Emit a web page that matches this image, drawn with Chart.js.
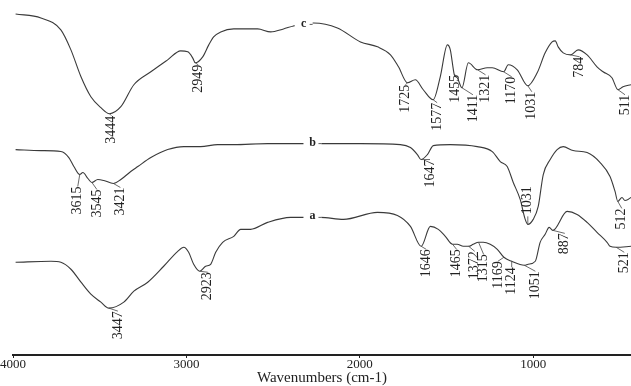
<!DOCTYPE html>
<html>
<head>
<meta charset="utf-8">
<script src="https://cdn.jsdelivr.net/npm/chart.js@4.4.0/dist/chart.umd.min.js"></script>
<style>
  html, body { margin: 0; padding: 0; background: #fff; }
  canvas { display: block; }
</style>
</head>
<body>
<canvas id="ftir" width="631" height="386"></canvas>
<script>
// FTIR spectra, three samples stacked (offset transmittance, arbitrary units)
const cWave = [3985,3839,3724,3666,3608,3551,3493,3444,3378,3303,3205,3108,3033,2992,2964,2949,2906,2871,2843,2802,2727,2589,2514,2440,2382,2267,2129,1996,1898,1823,1777,1725,1680,1634,1577,1536,1495,1478,1462,1455,1438,1411,1374,1321,1265,1236,1170,1144,1092,1031,977,931,891,873,856,827,784,741,689,632,597,546,511,482,436];
const cT    = [342,338,326,306,279,259,248,242,249,271,284,296,305,304,298,293,299,311,319,324,327,327,324,327,330,333,328,314,309,301,289,273,276,266,256,279,311,306,288,281,278,268,293,286,288,288,284,291,286,270,283,303,314,315,309,303,301,306,301,289,284,278,266,269,271];

const bWave = [3985,3839,3724,3678,3649,3615,3597,3568,3545,3511,3476,3421,3378,3321,3280,3205,3108,3015,2918,2820,2727,2532,2382,2227,1996,1766,1708,1668,1647,1610,1576,1478,1323,1236,1190,1150,1115,1075,1046,1031,1000,971,942,902,862,827,770,689,614,557,528,512,488,471,453,436];
const bT    = [206,205,204,198,189,181,183,177,173,176,175,172,176,184,189,198,206,209,209,211,211,212,212,212,212,211,208,201,196,201,210,211,209,204,194,189,173,156,136,131,136,149,181,196,206,209,205,203,193,179,164,154,158,155,156,158];

const aWave = [3985,3781,3724,3666,3608,3551,3493,3447,3361,3303,3223,3131,3050,3015,2987,2958,2923,2889,2860,2831,2791,2727,2687,2630,2532,2399,2359,2227,2094,1898,1783,1708,1646,1593,1547,1507,1465,1438,1403,1372,1346,1315,1288,1248,1207,1169,1124,1051,1029,988,960,931,908,887,804,747,689,632,574,557,521,436];
const aT    = [93,94,93,86,73,61,53,47,53,64,73,89,104,108,103,91,84,89,91,103,113,119,126,126,133,138,138,138,136,143,140,129,109,129,126,119,111,111,109,109,111,113,113,111,106,98,94,90,91,94,113,121,128,125,144,141,133,123,113,109,108,109];

// marked band positions (cm-1)
const cPeaks = [3444,2949,1725,1577,1455,1411,1321,1170,1031,784,511];
const bPeaks = [3615,3545,3421,1647,1031,512];
const aPeaks = [3447,2923,1646,1465,1372,1315,1169,1124,1051,887,521];

const xTicks = [4000,3000,2000,1000];

// where the sample letter sits on each trace
const tagAt = { c: 2324, b: 2273, a: 2273 };

// label placement tweaks [dx, dy] in px from the band point
const nudge = {
  c: {3444:[2,2],2949:[3,2],1725:[-2,2],1577:[4,3],1455:[1,0],1411:[11,7],1321:[8,5],1170:[8,5],1031:[4,6],784:[9,2],511:[7,5]},
  b: {3615:[-2,12],3545:[5,7],3421:[7,4],1647:[9,0],1031:[0,-38],512:[4,7]},
  a: {3447:[9,3],2923:[8,1],1646:[5,3],1465:[4,5],1372:[6,5],1315:[5,12],1169:[-6,4],1124:[0,6],1051:[11,6],887:[12,3],521:[8,5]}
};

const series = [
  { name: 'c', wave: cWave, t: cT, peaks: cPeaks },
  { name: 'b', wave: bWave, t: bT, peaks: bPeaks },
  { name: 'a', wave: aWave, t: aT, peaks: aPeaks }
];

const serif = '"Liberation Serif", "Times New Roman", serif';

function interp(wave, t, w) {
  for (let i = 0; i < wave.length - 1; i++) {
    if (wave[i] >= w && wave[i + 1] <= w) {
      const f = (wave[i] - w) / (wave[i] - wave[i + 1]);
      return t[i] + f * (t[i + 1] - t[i]);
    }
  }
  return t[t.length - 1];
}

const peakLabels = {
  id: 'peakLabels',
  afterDatasetsDraw(chart) {
    const ctx = chart.ctx;
    const xs = chart.scales.x, ys = chart.scales.y;
    ctx.save();
    series.forEach((s, di) => {
      const meta = chart.getDatasetMeta(di);
      ctx.font = '14px ' + serif;
      ctx.fillStyle = '#222';
      ctx.strokeStyle = '#444';
      ctx.lineWidth = 0.8;
      s.peaks.forEach(p => {
        const pt = meta.data[s.wave.indexOf(p)];
        const [dx, dy] = nudge[s.name][p] || [4, 4];
        const x = pt.x + dx, y = pt.y + dy;
        const len = ctx.measureText(String(p)).width;
        ctx.beginPath();
        ctx.moveTo(pt.x, pt.y);
        ctx.lineTo(x, dy < 0 ? y + len + 2 : y);
        ctx.stroke();
        ctx.save();
        ctx.translate(x, y);
        ctx.rotate(-Math.PI / 2);
        ctx.textAlign = dy < 0 ? 'left' : 'right';
        ctx.textBaseline = 'middle';
        if (dy < 0) ctx.fillText(String(p), -len, 0);
        else ctx.fillText(String(p), 0, 0);
        ctx.restore();
      });
      // sample letter on the trace
      const lx = xs.getPixelForValue(tagAt[s.name]);
      const ly = ys.getPixelForValue(interp(s.wave, s.t, tagAt[s.name]));
      ctx.fillStyle = '#fff';
      ctx.fillRect(lx - 9, ly - 6, 18, 12);
      ctx.strokeStyle = '#333';
      ctx.beginPath();
      ctx.moveTo(lx + 6, ly); ctx.lineTo(lx + 9, ly);
      ctx.stroke();
      ctx.fillStyle = '#222';
      ctx.font = 'bold 12px ' + serif;
      ctx.textAlign = 'center';
      ctx.textBaseline = 'middle';
      ctx.fillText(s.name, lx, ly - 1);
    });
    ctx.restore();
  }
};

new Chart(document.getElementById('ftir'), {
  type: 'line',
  data: {
    datasets: series.map(s => ({
      label: s.name,
      data: s.wave.map((w, i) => ({ x: w, y: s.t[i] })),
      borderColor: '#3a3a3a',
      borderWidth: 1.1,
      pointRadius: 0,
      fill: false,
      cubicInterpolationMode: 'monotone'
    }))
  },
  options: {
    responsive: false,
    animation: false,
    devicePixelRatio: 1,
    layout: { padding: 0 },
    plugins: { legend: { display: false }, tooltip: { enabled: false } },
    scales: {
      x: {
        type: 'linear',
        reverse: true,
        min: 436,
        max: 4000,
        afterBuildTicks: axis => { axis.ticks = xTicks.map(v => ({ value: v })); },
        ticks: {
          font: { family: serif, size: 13, lineHeight: 1 },
          color: '#222',
          padding: 0,
          maxRotation: 0,
          autoSkip: false,
          callback: v => String(v)
        },
        grid: { drawOnChartArea: false, drawTicks: true, tickLength: 3, color: '#222' },
        border: { display: true, color: '#222', width: 2 },
        title: {
          display: true,
          text: 'Wavenumbers (cm-1)',
          font: { family: serif, size: 15, lineHeight: 1 },
          color: '#222',
          padding: { top: 0, bottom: 0 }
        }
      },
      y: { display: false, min: 0, max: 356 }
    }
  },
  plugins: [peakLabels]
});
</script>
</body>
</html>
